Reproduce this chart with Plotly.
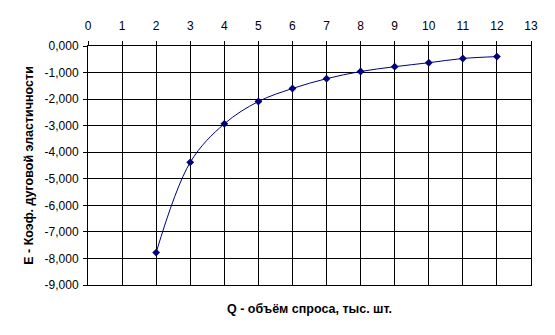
import plotly.graph_objects as go

q_values = [2, 3, 4, 5, 6, 7, 8, 9, 10, 11, 12]
e_values = [-7.78, -4.38, -2.93, -2.09, -1.60, -1.23, -0.96, -0.78, -0.63, -0.47, -0.40]

x_ticks = list(range(0, 14))
y_ticks = [0, -1, -2, -3, -4, -5, -6, -7, -8, -9]
y_tick_labels = ["0,000", "-1,000", "-2,000", "-3,000", "-4,000", "-5,000",
                 "-6,000", "-7,000", "-8,000", "-9,000"]

x_title = "Q - объём спроса, тыс. шт."
y_title = "E - Коэф. дуговой эластичности"

fig = go.Figure()
fig.add_trace(go.Scatter(
    x=q_values, y=e_values, mode="lines+markers",
    line=dict(color="#000080", width=1, shape="spline", smoothing=1),
    marker=dict(symbol="diamond", size=6, color="#000080"),
    showlegend=False,
))

font = dict(family="Liberation Sans, Arial, sans-serif", size=12, color="black")
tfont = dict(family="Liberation Sans, Arial, sans-serif", size=12.5, color="black")

fig.update_layout(
    width=555, height=335,
    margin=dict(l=88, r=24, t=46, b=50),
    paper_bgcolor="white", plot_bgcolor="white",
    font=font,
    xaxis=dict(
        side="top", range=[0, 13], tickvals=x_ticks,
        showgrid=True, gridcolor="black", gridwidth=1,
        showline=True, linecolor="black", linewidth=1, mirror=True,
        ticks="outside", ticklen=4, tickcolor="black",
        zeroline=False, tickfont=font, ticklabelstandoff=6,
    ),
    yaxis=dict(
        range=[-9, 0], tickvals=y_ticks, ticktext=y_tick_labels,
        showgrid=True, gridcolor="black", gridwidth=1,
        showline=True, linecolor="black", linewidth=1, mirror=True,
        ticks="outside", ticklen=4, tickcolor="black",
        zeroline=False, tickfont=font, ticklabelstandoff=2,
        title=dict(text="<b>" + y_title + "</b>", font=tfont, standoff=8),
    ),
    annotations=[dict(
        text="<b>" + x_title + "</b>", x=0.5, y=-0.1,
        xref="paper", yref="paper", xanchor="center", yanchor="middle",
        showarrow=False, font=tfont,
    )],
)

fig.write_html("out.html")
